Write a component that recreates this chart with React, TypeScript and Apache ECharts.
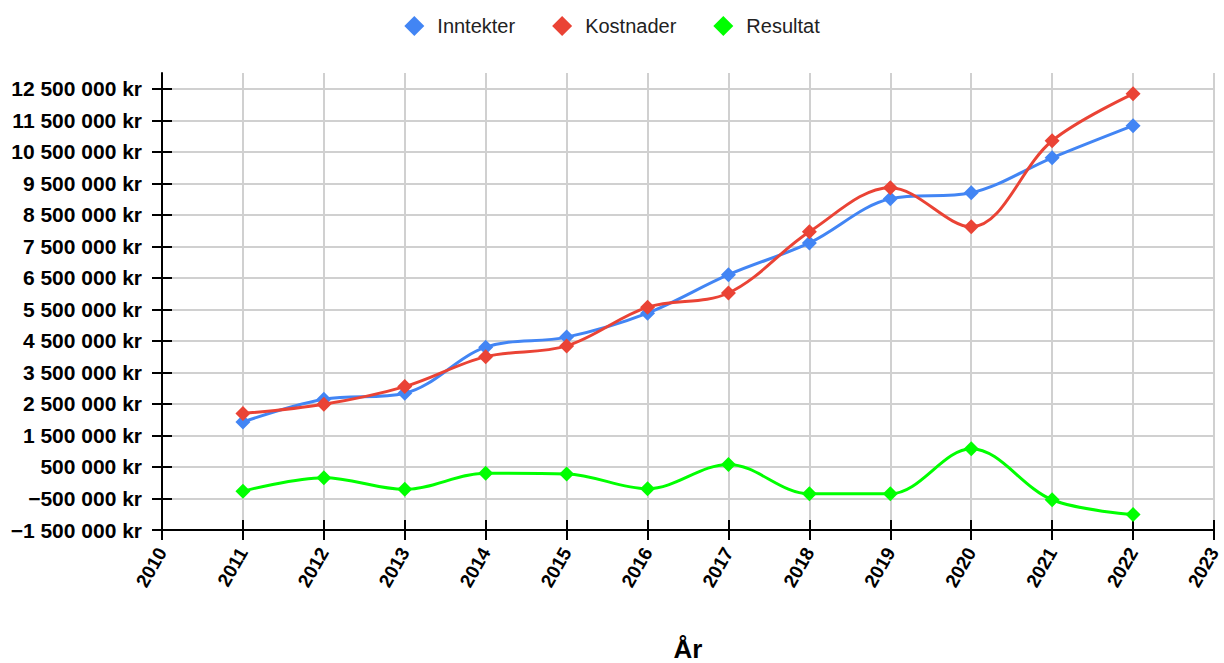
import React, { useEffect, useRef } from "react";
import * as echarts from "echarts";

const years = [2011, 2012, 2013, 2014, 2015, 2016, 2017, 2018, 2019, 2020, 2021, 2022];
const inntekter = [1930000, 2650000, 2840000, 4300000, 4620000, 5380000, 6600000, 7610000, 9010000, 9200000, 10310000, 11330000];
const kostnader = [2200000, 2490000, 3050000, 4000000, 4340000, 5570000, 6020000, 7960000, 9360000, 8120000, 10850000, 12340000];
const resultat = [-270000, 160000, -210000, 300000, 280000, -190000, 580000, -350000, -350000, 1080000, -540000, -1010000];
const yTicks = [-1500000, -500000, 500000, 1500000, 2500000, 3500000, 4500000, 5500000, 6500000, 7500000, 8500000, 9500000, 10500000, 11500000, 12500000];
const seriesNames = ["Inntekter", "Kostnader", "Resultat"];
const colors = ["#4285F4", "#EA4335", "#00FF00"];

const FONT = "'Liberation Sans', Arial, sans-serif";

function fmtKr(v: number): string {
  const s = Math.abs(Math.round(v)).toString().replace(/\B(?=(\d{3})+(?!\d))/g, " ");
  return (v < 0 ? "\u2212" : "") + s + " kr";
}

export default function App() {
  const ref = useRef<HTMLDivElement>(null);
  useEffect(() => {
    if (!ref.current) return;
    const chart = echarts.init(ref.current, null, { renderer: "svg" });
    const dataSets = [inntekter, kostnader, resultat];
    const yBase = {
      type: "value" as const,
      min: -1500000,
      max: 13000000,
      position: "left" as const,
    };
    const xBase = {
      type: "value" as const,
      min: 2010,
      max: 2023,
      interval: 1,
      position: "bottom" as const,
    };
    chart.setOption({
      animation: false,
      color: colors,
      legend: {
        top: 11,
        left: "center",
        icon: "diamond",
        itemWidth: 20,
        itemHeight: 20,
        itemGap: 37,
        data: seriesNames,
        textStyle: { fontFamily: FONT, fontSize: 20, color: "#222", padding: [0, 0, 0, 8] },
      },
      grid: { left: 162, right: 10, top: 73, bottom: 133, containLabel: false, outerBoundsMode: "none" },
      xAxis: [
        {
          ...xBase,
          name: "År",
          nameLocation: "middle",
          nameGap: 106,
          nameTextStyle: { fontFamily: FONT, fontSize: 26, fontWeight: "bold", color: "#000" },
          axisLine: { show: true, onZero: false, lineStyle: { color: "#000", width: 2 } },
          axisTick: { show: true, inside: false, length: 10, lineStyle: { color: "#000", width: 2 } },
          axisLabel: {
            rotate: 60,
            margin: 19,
            fontFamily: FONT,
            fontSize: 19,
            fontWeight: "bold",
            color: "#000",
            formatter: (v: number) => String(v),
          },
          splitLine: { show: true, lineStyle: { color: "#d0d0d0", width: 2 } },
        },
        {
          ...xBase,
          axisLine: { show: false, onZero: false },
          axisTick: { show: true, inside: true, length: 10, lineStyle: { color: "#000", width: 2 } },
          axisLabel: { show: false },
          splitLine: { show: false },
        },
      ],
      yAxis: [
        {
          ...yBase,
          axisLine: { show: true, onZero: false, lineStyle: { color: "#000", width: 2 } },
          axisTick: { show: true, inside: false, length: 10, customValues: yTicks, lineStyle: { color: "#000", width: 2 } },
          axisLabel: {
            customValues: yTicks,
            margin: 20,
            fontFamily: FONT,
            fontSize: 21,
            fontWeight: "bold",
            color: "#000",
            formatter: (v: number) => fmtKr(v),
          },
          splitLine: { show: true, lineStyle: { color: "#d0d0d0", width: 2 } },
        },
        {
          ...yBase,
          axisLine: { show: false, onZero: false },
          axisTick: { show: true, inside: true, length: 10, customValues: yTicks, lineStyle: { color: "#000", width: 2 } },
          axisLabel: { show: false, customValues: yTicks },
          splitLine: { show: false },
        },
      ],
      series: seriesNames.map((name, i) => ({
        name,
        type: "line",
        xAxisIndex: 0,
        yAxisIndex: 0,
        smooth: 0.35,
        symbol: "diamond",
        symbolSize: 15,
        showSymbol: true,
        lineStyle: { width: 3, color: colors[i] },
        itemStyle: { color: colors[i] },
        data: years.map((y, j) => [y, dataSets[i][j]]),
      })),
    });
    return () => chart.dispose();
  }, []);
  return <div ref={ref} style={{ width: 1224, height: 663, position: "absolute", left: 0, top: 0 }} />;
}
